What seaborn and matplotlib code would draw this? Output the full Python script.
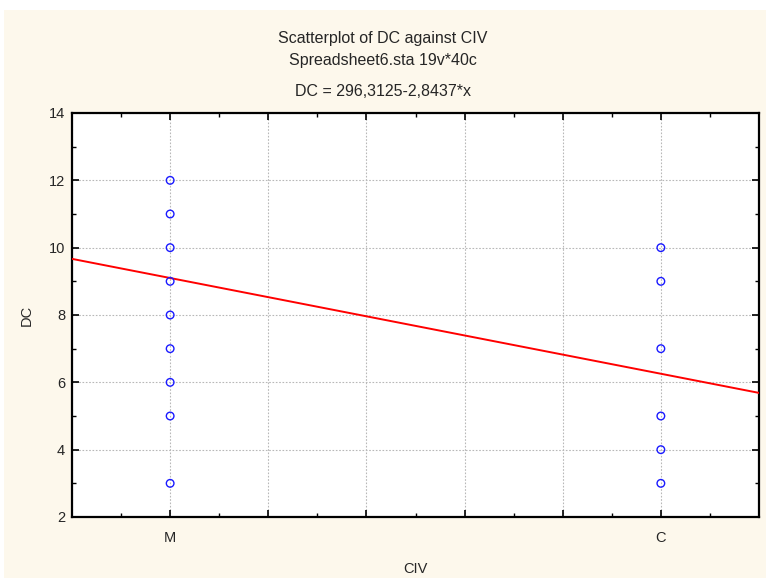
import numpy as np
import pandas as pd
import matplotlib as mpl
mpl.use("Agg")
import matplotlib.pyplot as plt
from matplotlib.ticker import MultipleLocator, FuncFormatter
from matplotlib.patches import Rectangle
import seaborn as sns

# data (CIV coded M=101, C=102)
civ_names = ["M", "C"]
civ_codes = [101, 102]
dc_m = [3, 5, 6, 7, 8, 9, 10, 11, 12]
dc_c = [3, 4, 5, 7, 9, 10]
intercept = 296.3125
slope = -2.8437

df = pd.DataFrame({
    "CIV": [civ_codes[0]] * len(dc_m) + [civ_codes[1]] * len(dc_c),
    "DC": dc_m + dc_c,
})

sns.set_style("white")
plt.rcParams['font.family'] = ['Liberation Sans', 'DejaVu Sans']

fig = plt.figure(figsize=(7.66, 5.78), dpi=100, facecolor="white")
# cream panel behind the chart
fig.patches.append(Rectangle((4 / 766, 0), 1, (578 - 10) / 578, transform=fig.transFigure,
                             facecolor="#fdf8ec", edgecolor="none", zorder=-10))

ax = fig.add_axes([72 / 766, (578 - 517) / 578, (759 - 72) / 766, (517 - 113) / 578])
ax.set_facecolor("white")

xlim = (100.8, 102.2)
ax.set_xlim(xlim)
ax.set_ylim(2, 14)

# regression line from the fitted equation
xl = np.array(xlim)
sns.lineplot(x=xl, y=intercept + slope * xl, ax=ax, color="red", linewidth=1.4, zorder=3)

sns.scatterplot(data=df, x="CIV", y="DC", ax=ax, marker="o", s=30,
                facecolor="none", edgecolor="#1a1aff", linewidth=1.0, zorder=4)

ax.xaxis.set_major_locator(MultipleLocator(0.2))
ax.xaxis.set_minor_locator(MultipleLocator(0.1))
lab = dict(zip(civ_codes, civ_names))
ax.xaxis.set_major_formatter(FuncFormatter(lambda v, p: lab.get(int(round(v)), "") if abs(v - round(v)) < 1e-6 else ""))
ax.yaxis.set_major_locator(MultipleLocator(2))
ax.yaxis.set_minor_locator(MultipleLocator(1))

ax.grid(True, which="major", color="#b8b8b8", linestyle=(0, (1.5, 1.5)), linewidth=0.8, zorder=0)
ax.set_axisbelow(True)

ax.tick_params(which="both", direction="in", top=True, right=True, bottom=True, left=True,
               color="black", labelsize=10.5, pad=10)
ax.tick_params(which="major", length=5, width=1.2)
ax.tick_params(which="minor", length=3, width=1.0)
ax.tick_params(axis="y", pad=5)

for s in ax.spines.values():
    s.set_visible(True)
    s.set_color("black")
    s.set_linewidth(1.6)

ax.set_xlabel("CIV", fontsize=10.5, labelpad=12)
ax.set_ylabel("DC", fontsize=10.5, labelpad=11)

fig.text(0.5, 1 - 38 / 578, "Scatterplot of DC against CIV", ha="center", va="center", fontsize=11.5)
fig.text(0.5, 1 - 61 / 578, "Spreadsheet6.sta 19v*40c", ha="center", va="center", fontsize=11.5)
fig.text(0.5, 1 - 92 / 578, "DC = 296,3125-2,8437*x", ha="center", va="center", fontsize=11.5)

fig.savefig("out.png", dpi=100, facecolor=fig.get_facecolor())
